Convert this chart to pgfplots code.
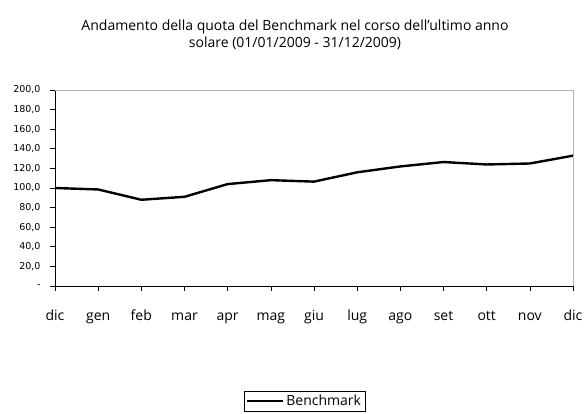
\documentclass[border=0pt]{standalone}
\usepackage{fontspec}
\setmainfont{Open Sans}
\newfontfamily\tickfont{DejaVu Sans}
\usepackage{pgfplots}
\pgfplotsset{compat=1.18}
\begin{document}
\begin{tikzpicture}[x=1pt,y=1pt]
\useasboundingbox (0,0) rectangle (584,414);
\node[align=center, anchor=base, font=\fontsize{14}{17}\selectfont] at (295,383)
  {Andamento della quota del Benchmark nel corso dell'ultimo anno};
\node[align=center, anchor=base, font=\fontsize{14}{17}\selectfont] at (295,366)
  {solare (01/01/2009 - 31/12/2009)};
\begin{axis}[
  at={(55pt,128pt)}, anchor=south west,
  scale only axis, width=518pt, height=196pt,
  xmin=0, xmax=12, ymin=0, ymax=200,
  axis x line*=bottom, axis y line*=left,
  axis line style={black, line width=0.8pt},
  xtick={0,...,12},
  xticklabels={dic,gen,feb,mar,apr,mag,giu,lug,ago,set,ott,nov,dic},
  ytick={0,20,...,200},
  yticklabels={-,{20,0},{40,0},{60,0},{80,0},{100,0},{120,0},{140,0},{160,0},{180,0},{200,0}},
  tick align=outside, major tick length=5pt,
  tick style={black, line width=0.6pt},
  x tick label style={font=\fontsize{14}{16}\selectfont, anchor=base, yshift=-30pt},
  y tick label style={font=\tickfont\fontsize{9.5}{10}\selectfont, xshift=-6pt},
  legend style={at={(0.4817,-0.587)}, anchor=center, draw=black,
    font=\fontsize{14}{16}\selectfont, inner sep=2pt},
  legend image code/.code={\draw[#1] (0pt,0pt) -- (36pt,0pt);},
  clip=false,
]
\addplot[black, line width=2.4pt, line join=round] coordinates {
  (0,100) (1,98.5) (2,88) (3,91) (4,104) (5,108) (6,106.5)
  (7,116) (8,122) (9,126.5) (10,124) (11,125) (12,133)
};
\addlegendentry{Benchmark}
\draw[gray!60, line width=0.8pt] (rel axis cs:0,1) -- (rel axis cs:1,1) -- (rel axis cs:1,0);
\end{axis}
\end{tikzpicture}
\end{document}
